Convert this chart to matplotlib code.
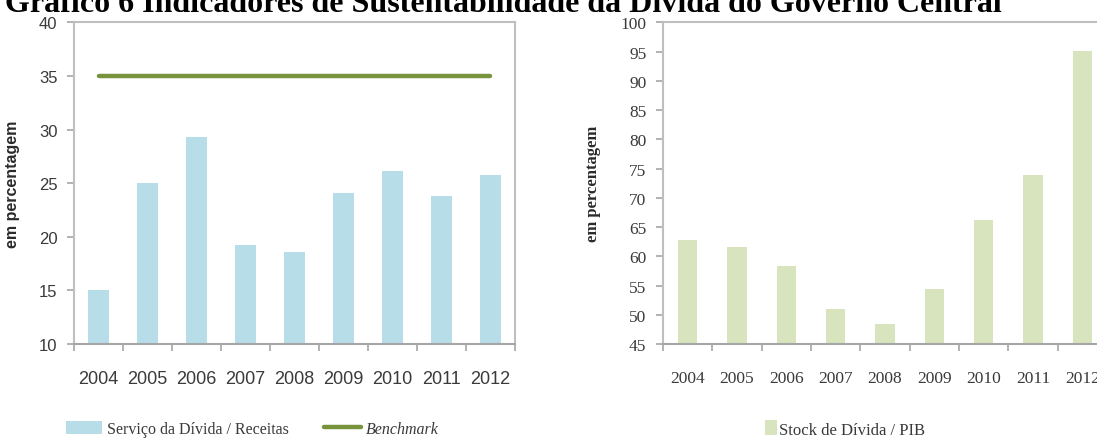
import matplotlib.pyplot as plt
from matplotlib.patches import Patch
from matplotlib.lines import Line2D

# data
anos = ['2004', '2005', '2006', '2007', '2008', '2009', '2010', '2011', '2012']
servico_receitas = [15.0, 25.0, 29.3, 19.2, 18.6, 24.1, 26.1, 23.8, 25.8]
benchmark = [35, 35, 35, 35, 35, 35, 35, 35, 35]
stock_pib = [62.8, 61.6, 58.4, 50.9, 48.5, 54.4, 66.2, 73.9, 95.1]

titulo = 'Gráfico 6 Indicadores de Sustentabilidade da Dívida do Governo Central'

W, H = 1097, 439
fig = plt.figure(figsize=(W / 100, H / 100), dpi=100)

sans = ['Liberation Sans']
serif = ['Liberation Serif']
spine_col = '#bfbfbf'
txt_col = '#3a3a3a'


def px_axes(x0, x1, y0, y1):
    return fig.add_axes([x0 / W, 1 - y1 / H, (x1 - x0) / W, (y1 - y0) / H])


def style_axes(ax, fam, ysize, xsize):
    x = range(len(anos))
    ax.set_xlim(-0.5, len(anos) - 0.5)
    ax.set_xticks(list(x))
    ax.set_xticklabels(anos, family=fam, fontsize=xsize, color=txt_col)
    ax.set_xticks([i - 0.5 for i in range(len(anos) + 1)], minor=True)
    ax.tick_params(axis='x', which='major', length=0, pad=19)
    ax.tick_params(axis='x', which='minor', length=5, color='#a6a6a6', width=1.2)
    ax.tick_params(axis='y', length=5, color='#a6a6a6', width=1.2, pad=7,
                   labelsize=ysize, labelcolor=txt_col)
    for lab in ax.get_yticklabels():
        lab.set_family(fam)
    for s in ax.spines.values():
        s.set_color(spine_col)
        s.set_linewidth(1.5)
    ax.spines['bottom'].set_color('#a6a6a6')


# left chart
ax1 = px_axes(74, 515, 23.3, 345)
x = list(range(len(anos)))
ax1.bar(x, servico_receitas, width=0.41, color='#b7dde8', zorder=2)
ax1.plot(x, benchmark, color='#77933c', lw=3.2, solid_capstyle='round', zorder=3)
ax1.set_ylim(10, 40)
ax1.set_yticks(range(10, 41, 5))
style_axes(ax1, sans, 12, 13)
ax1.set_ylabel('em percentagem', family=sans, fontweight='bold',
               fontsize=11.5, color='#2a2a2a')
ax1.yaxis.set_label_coords(-0.122, 0.5)

h1 = [Patch(facecolor='#b7dde8', edgecolor='none'),
      Line2D([0], [0], color='#77933c', lw=3.2, solid_capstyle='round')]
leg1 = ax1.legend(h1, ['Serviço da Dívida / Receitas', 'Benchmark'], ncol=2,
                  loc='center', bbox_to_anchor=(252 / W, 1 - 430 / H),
                  bbox_transform=fig.transFigure, frameon=False,
                  prop={'family': serif, 'size': 11.5}, handlelength=2.3,
                  handleheight=0.9, handletextpad=0.3, columnspacing=2.2)
for t in leg1.get_texts():
    t.set_color(txt_col)
leg1.get_texts()[1].set_style('italic')

# right chart
ax2 = px_axes(663, 1107, 23.3, 345)
ax2.bar(x, stock_pib, width=0.39, color='#d7e4bd', zorder=2)
ax2.set_ylim(45, 100)
ax2.set_yticks(range(45, 101, 5))
style_axes(ax2, serif, 12.5, 12.5)
ax2.set_ylabel('em percentagem', family=serif, fontweight='bold',
               fontsize=12, color='#2a2a2a')
ax2.yaxis.set_label_coords(-0.14, 0.5)

h2 = [Patch(facecolor='#d7e4bd', edgecolor='none')]
leg2 = ax2.legend(h2, ['Stock de Dívida / PIB'], loc='center',
                  bbox_to_anchor=(845 / W, 1 - 430 / H),
                  bbox_transform=fig.transFigure, frameon=False,
                  prop={'family': serif, 'size': 12}, handlelength=0.7,
                  handleheight=1.0, handletextpad=0.15)
for t in leg2.get_texts():
    t.set_color(txt_col)

# title, cut at the top like the source image
tt = fig.text(5 / W, 1 - 12 / H, titulo, family=serif, fontweight='bold',
              fontsize=20, va='baseline', ha='left', color='black')
r = fig.canvas.get_renderer()
wpx = tt.get_window_extent(renderer=r).width
tt.set_fontsize(20 * 995 / wpx)

fig.savefig('out.png', dpi=100)
